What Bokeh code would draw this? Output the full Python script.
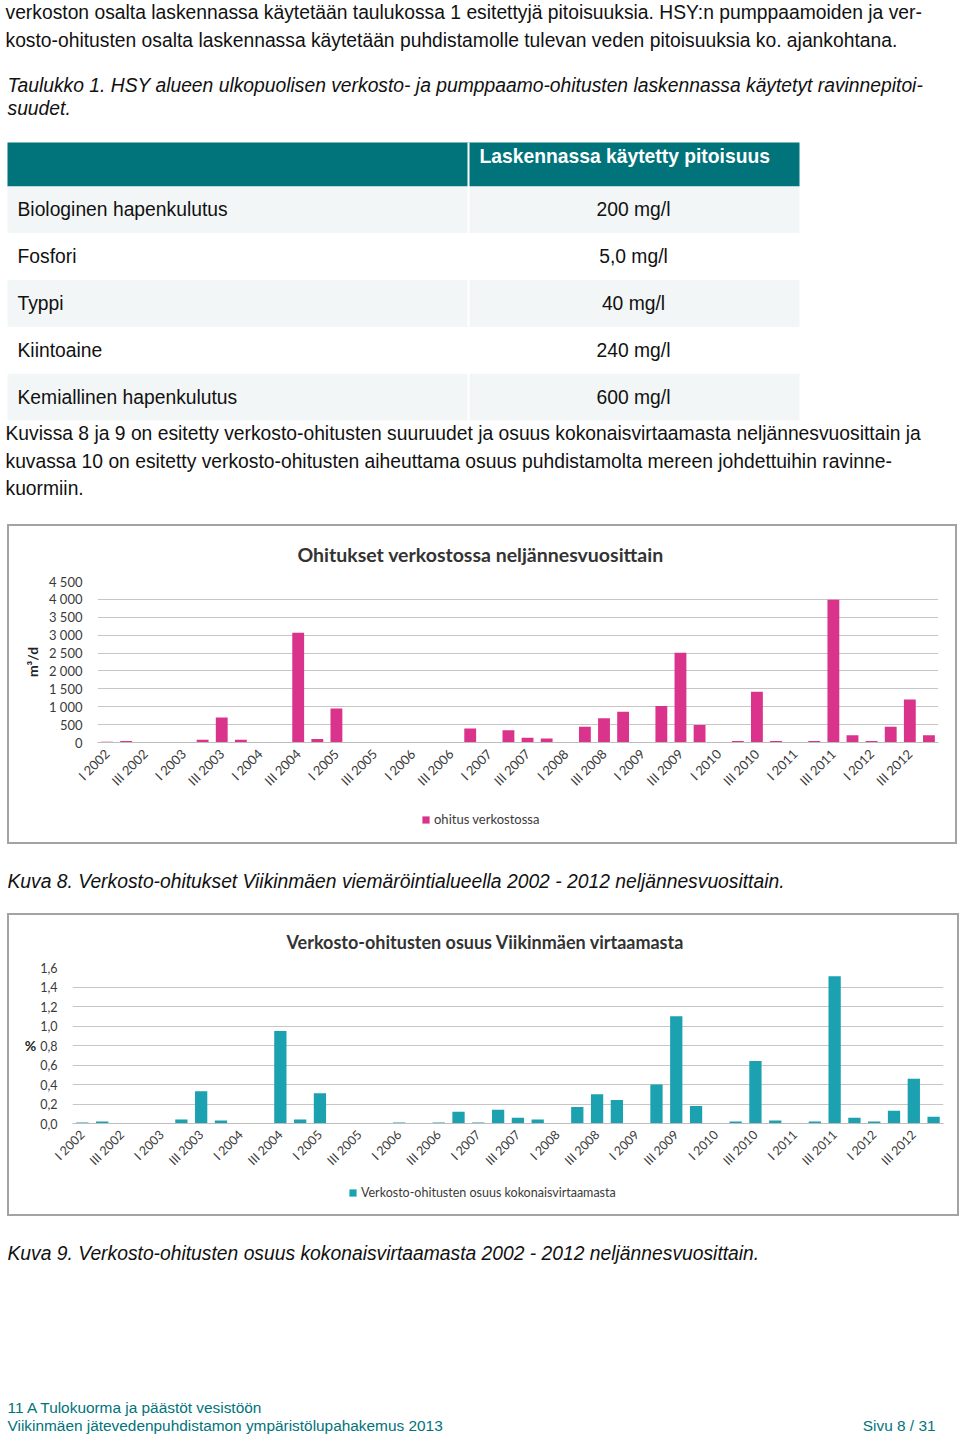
import math
from bokeh.plotting import figure
from bokeh.layouts import column, row
from bokeh.models import (Range1d, FactorRange, Legend, LegendItem, Spacer,
                          CustomJSTickFormatter, FixedTicker, ColumnDataSource)
from bokeh.core.properties import value
from bokeh.embed import file_html
from bokeh.resources import INLINE

# ---------------- data ----------------
quarters = ["I", "II", "III", "IV"]
years = list(range(2002, 2013))
factors = [f"{q} {y}" for y in years for q in quarters]

# Ohitukset verkostossa (m3/d)
bypass_m3d = [20, 40, 0, 0, 0, 75, 700, 75, 0, 0, 3070, 100,
              950, 0, 0, 0, 15, 15, 15, 390, 15, 340, 130, 110,
              10, 440, 680, 860, 10, 1020, 2510, 490, 10, 40, 1420, 40,
              10, 40, 3990, 200, 40, 440, 1200, 200]

# Verkosto-ohitusten osuus kokonaisvirtaamasta (%)
bypass_pct = [0.01, 0.02, 0, 0, 0, 0.04, 0.33, 0.03, 0, 0, 0.95, 0.04,
              0.31, 0, 0, 0, 0.01, 0.005, 0.01, 0.12, 0.01, 0.14, 0.06, 0.04,
              0.005, 0.17, 0.30, 0.24, 0.005, 0.40, 1.10, 0.18, 0.005, 0.02, 0.64, 0.03,
              0.005, 0.02, 1.51, 0.06, 0.02, 0.13, 0.46, 0.07]

y1_ticks = [0, 500, 1000, 1500, 2000, 2500, 3000, 3500, 4000, 4500]
y2_ticks = [0, 0.2, 0.4, 0.6, 0.8, 1.0, 1.2, 1.4, 1.6]

table_params = ["Biologinen hapenkulutus", "Fosfori", "Typpi", "Kiintoaine", "Kemiallinen hapenkulutus"]
table_values = ["200 mg/l", "5,0 mg/l", "40 mg/l", "240 mg/l", "600 mg/l"]
table_header = "Laskennassa käytetty pitoisuus"

intro_lines = [
    "verkoston osalta laskennassa käytetään taulukossa 1 esitettyjä pitoisuuksia. HSY:n pumppaamoiden ja ver-",
    "kosto-ohitusten osalta laskennassa käytetään puhdistamolle tulevan veden pitoisuuksia ko. ajankohtana.",
]
table_caption = [
    "Taulukko 1. HSY alueen ulkopuolisen verkosto- ja pumppaamo-ohitusten laskennassa käytetyt ravinnepitoi-",
    "suudet.",
]
para_lines = [
    "Kuvissa 8 ja 9 on esitetty verkosto-ohitusten suuruudet ja osuus kokonaisvirtaamasta neljännesvuosittain ja",
    "kuvassa 10 on esitetty verkosto-ohitusten aiheuttama osuus puhdistamolta mereen johdettuihin ravinne-",
    "kuormiin.",
]
caption1 = "Kuva 8. Verkosto-ohitukset Viikinmäen viemäröintialueella 2002 - 2012 neljännesvuosittain."
caption2 = "Kuva 9. Verkosto-ohitusten osuus kokonaisvirtaamasta 2002 - 2012 neljännesvuosittain."
footer_left = ["11 A Tulokuorma ja päästöt vesistöön",
               "Viikinmäen jätevedenpuhdistamon ympäristölupahakemus 2013"]
footer_right = "Sivu 8 / 31"

# ---------------- styles ----------------
W = 960
BODY = "Liberation Sans"
BODY_SIZE = "19.3px"
CHART = "Lato"
TEAL = "#00737b"
TXT = "#111111"
PINK = "#d9338c"
CYAN = "#1ba1b0"


def page_fig(y0, y1, width=W):
    p = figure(width=width, height=y1 - y0, x_range=Range1d(0, width), y_range=Range1d(y1, y0),
               output_backend="svg", toolbar_location=None, min_border=0,
               x_axis_location=None, y_axis_location=None)
    p.outline_line_color = None
    p.grid.visible = False
    p.frame_align = False
    return p


def add_lines(p, xs, ys, texts, size=BODY_SIZE, style="normal", color=TXT, align="left"):
    p.text(x=xs, y=ys, text=texts, text_font=value(BODY), text_font_size=size,
           text_font_style=style, text_color=color, text_align=align, text_baseline="middle")


# ---------------- top section (page y 0..524) ----------------
top = page_fig(0, 524)
add_lines(top, [5, 5], [12, 40], intro_lines)
add_lines(top, [7, 7], [85, 108], table_caption, style="italic")

row_top = [186 + 46.8 * i for i in range(5)]
row_bot = [t + 46.8 for t in row_top]
row_mid = [(a + b) / 2 for a, b in zip(row_top, row_bot)]
row_fill = ["#f3f6f6" if i % 2 == 0 else "#ffffff" for i in range(5)]
top.quad(left=7, right=799, top=142, bottom=186, color=TEAL, line_color=None)
top.quad(left=[7] * 5, right=[799] * 5, top=row_top, bottom=row_bot, color=row_fill, line_color=None)
top.segment(x0=468, y0=142, x1=468, y1=row_bot[-1], line_color="white", line_width=2)
top.text(x=[479], y=[156], text=[table_header], text_font=value(BODY), text_font_size=BODY_SIZE,
         text_font_style="bold", text_color="white", text_baseline="middle")
add_lines(top, [17] * 5, row_mid, table_params)
add_lines(top, [633] * 5, row_mid, table_values, align="center")
add_lines(top, [5, 5, 5], [433, 461, 488], para_lines)


# ---------------- bar charts ----------------
def quarter_formatter():
    return CustomJSTickFormatter(code="""
        return (tick.startsWith('II ') || tick.startsWith('IV ')) ? '' : tick;
    """)


def bar_chart(vals, color, title, ylabel, y_ticks, y_fmt, width, height,
              bl, br, bt, bb, title_left, title_standoff, title_size, xsize, ysize,
              label_horizontal, ylab_standoff):
    p = figure(width=width, height=height, x_range=FactorRange(*factors, range_padding=0),
               y_range=Range1d(y_ticks[0], y_ticks[-1]), output_backend="svg",
               toolbar_location=None, min_border_left=bl, min_border_right=br,
               min_border_top=bt, min_border_bottom=bb)
    p.frame_align = False
    p.outline_line_color = None
    p.border_fill_color = None
    p.vbar(x=factors, top=vals, width=0.62, color=color, line_color=None)

    p.title.text = title
    p.title.align = "left"
    p.title.offset = title_left
    p.title.text_font = CHART
    p.title.text_font_size = title_size
    p.title.text_font_style = "bold"
    p.title.text_color = "#333333"
    p.title.standoff = title_standoff

    p.xgrid.visible = False
    p.ygrid.grid_line_color = "#c6c6c6"
    p.ygrid.grid_line_width = 1.2

    xa = p.xaxis[0]
    xa.formatter = quarter_formatter()
    xa.major_label_orientation = math.pi / 4
    xa.major_tick_line_color = None
    xa.minor_tick_line_color = None
    xa.major_tick_out = 0
    xa.major_tick_in = 0
    xa.axis_line_color = "#bdbdbd"
    xa.axis_line_width = 1.2
    xa.major_label_text_font = CHART
    xa.major_label_text_font_size = xsize
    xa.major_label_text_color = "#3a3a3a"
    xa.major_label_standoff = 9

    ya = p.yaxis[0]
    ya.ticker = FixedTicker(ticks=y_ticks)
    ya.formatter = y_fmt
    ya.axis_line_color = None
    ya.major_tick_line_color = None
    ya.minor_tick_line_color = None
    ya.major_tick_out = 0
    ya.major_tick_in = 0
    ya.major_label_text_font = CHART
    ya.major_label_text_font_size = ysize
    ya.major_label_text_color = "#3a3a3a"
    ya.major_label_standoff = 15
    ya.axis_label = ylabel
    ya.axis_label_text_font = CHART
    ya.axis_label_text_font_size = "14px"
    ya.axis_label_text_font_style = "bold"
    ya.axis_label_text_color = "#222222"
    ya.axis_label_standoff = ylab_standoff
    if label_horizontal:
        try:
            ya.axis_label_orientation = "horizontal"
        except Exception:
            pass
    return p


def legend_strip(width, height, label, color, loc, size):
    lf = page_fig(0, height, width=width)
    lf.border_fill_color = None
    lf.background_fill_color = None
    # one swatch sample placed outside the visible range, only to style the legend glyph
    src = ColumnDataSource(data=dict(x=[-100.0], top=[0.0], bottom=[1.0]))
    r = lf.vbar(x="x", top="top", bottom="bottom", width=1, source=src, color=color, line_color=None)
    leg = Legend(items=[LegendItem(label=label, renderers=[r], index=0)], orientation="horizontal",
                 location=loc, glyph_width=9, glyph_height=9, label_text_font=CHART,
                 label_text_font_size=size, label_text_color="#3a3a3a", border_line_color=None,
                 background_fill_alpha=0, padding=0, margin=0, label_standoff=4,
                 label_height=14, spacing=0)
    lf.add_layout(leg, "center")
    return lf


BOX = {"outline": "2px solid #a3a3a3", "outline-offset": "-2px"}

fmt1 = CustomJSTickFormatter(code="""
    var s = Math.round(tick).toString();
    return s.length > 3 ? s.slice(0, -3) + ' ' + s.slice(-3) : s;
""")
fmt2 = CustomJSTickFormatter(code="return tick.toFixed(1).replace('.', ',');")

# chart 1: page x 7..957, y 524..844 ; frame x 97..938, y 580..742
chart1 = bar_chart(bypass_m3d, PINK, "Ohitukset verkostossa neljännesvuosittain", "m³/d",
                   y1_ticks, fmt1, 950, 280,
                   90, 19, 56, 62, 200, 32, "19.5px", "13px", "13px", False, 5)
leg1 = legend_strip(950, 40, "ohitus verkostossa", PINK, (414, 17), "13px")
box1 = column(chart1, leg1, spacing=0)
box1.styles = BOX

mid = page_fig(844, 913)
add_lines(mid, [7], [881], [caption1], style="italic")

# chart 2: page x 7..959, y 913..1216 ; frame x 72..943, y 965..1123
chart2 = bar_chart(bypass_pct, CYAN, "Verkosto-ohitusten osuus Viikinmäen virtaamasta", "%",
                   y2_ticks, fmt2, 952, 265,
                   65, 16, 52, 55, 214, 30, "18px", "12.5px", "12.5px", True, 1)
leg2 = legend_strip(952, 38, "Verkosto-ohitusten osuus kokonaisvirtaamasta", CYAN, (341, 16), "12.5px")
box2 = column(chart2, leg2, spacing=0)
box2.styles = BOX

bottom = page_fig(1216, 1437)
add_lines(bottom, [7], [1253], [caption2], style="italic")
add_lines(bottom, [7, 7], [1407, 1425], footer_left, size="15.4px", color=TEAL)
add_lines(bottom, [935], [1425], [footer_right], size="15.4px", color=TEAL, align="right")

layout = column(top,
                row(Spacer(width=7, height=320), box1, spacing=0),
                mid,
                row(Spacer(width=7, height=303), box2, spacing=0),
                bottom, spacing=0)
open("out.html", "w").write(file_html(layout, INLINE))
